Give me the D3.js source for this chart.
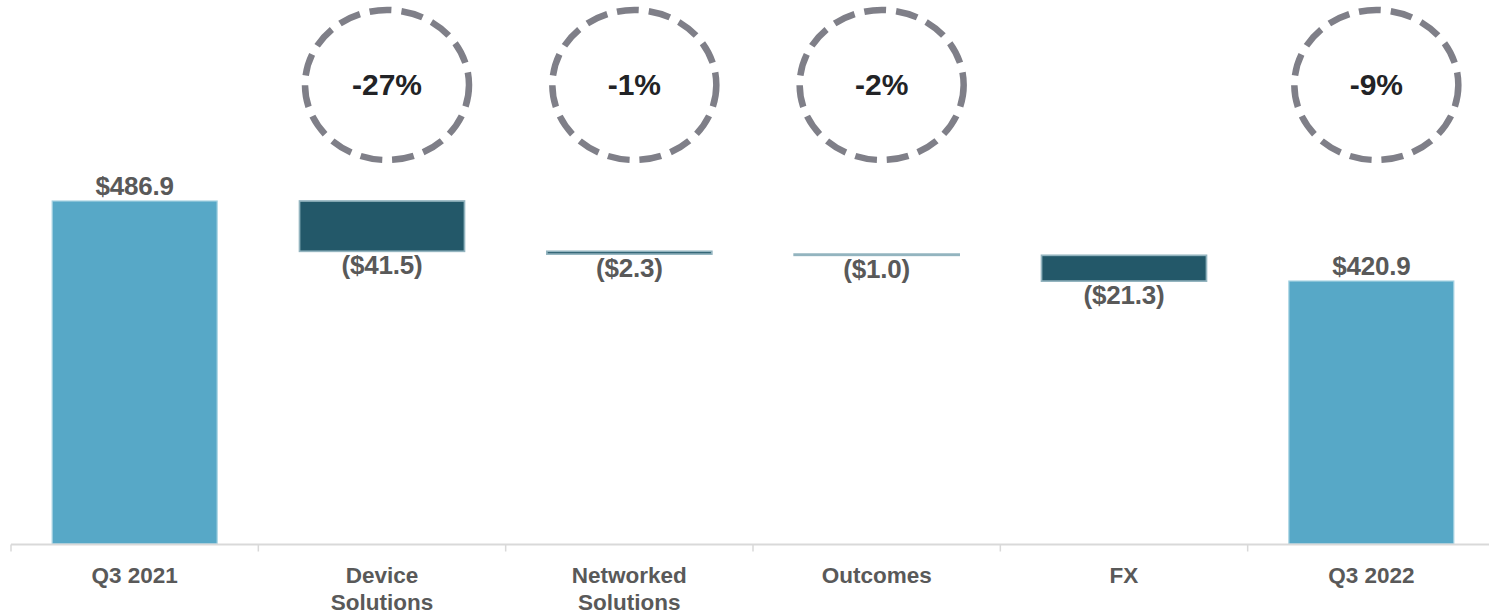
<!DOCTYPE html>
<html>
<head>
<meta charset="utf-8">
<script src="https://cdn.jsdelivr.net/npm/d3@7/dist/d3.min.js"></script>
<style>
  html, body { margin: 0; padding: 0; background: #ffffff; }
  svg { display: block; }
</style>
</head>
<body>
<svg id="chart" width="1489" height="615"></svg>
<script>
// ---- data ----
const categories = ["Q3 2021", "Device Solutions", "Networked Solutions", "Outcomes", "FX", "Q3 2022"];
const values = [486.9, -41.5, -2.3, -1.0, -21.3, 420.9];
const kinds = ["total", "delta", "delta", "delta", "delta", "total"];
const valueLabels = ["$486.9", "($41.5)", "($2.3)", "($1.0)", "($21.3)", "$420.9"];
const tickLabels = [["Q3 2021"], ["Device", "Solutions"], ["Networked", "Solutions"], ["Outcomes"], ["FX"], ["Q3 2022"]];
const pctCategories = ["Device Solutions", "Networked Solutions", "Outcomes", "Q3 2022"];
const pctLabels = ["-27%", "-1%", "-2%", "-9%"];

// ---- build waterfall ----
let running = 0;
const rows = categories.map((c, i) => {
  let start, end;
  if (kinds[i] === "total") { start = 204; end = values[i]; running = values[i]; }
  else { start = running; end = running + values[i]; running = end; }
  return { cat: c, kind: kinds[i], start, end, label: valueLabels[i], ticks: tickLabels[i] };
});

const svg = d3.select("#chart");
const x = d3.scaleBand().domain(categories).range([11, 1495]).paddingInner(0.333).paddingOuter(0.1665);
const y = d3.scaleLinear().domain([204, 486.9]).range([544, 201]);

const light = "#57a8c7", dark = "#235869";

// bars
svg.append("g").selectAll("rect").data(rows).join("rect")
  .attr("x", d => x(d.cat))
  .attr("width", x.bandwidth())
  .attr("y", d => y(Math.max(d.start, d.end)))
  .attr("height", d => Math.max(1, Math.abs(y(d.start) - y(d.end))))
  .attr("fill", d => d.kind === "total" ? light : dark)
  .attr("stroke", d => d.kind === "total" ? "#a6d2e2" : "#93b4bf")
  .attr("stroke-width", d => d.kind === "total" ? 1.2 : 1.7);

// axis line & ticks
const axisY = 544.5;
const ax = svg.append("g");
ax.append("line").attr("x1", 11).attr("x2", 1489).attr("y1", axisY).attr("y2", axisY)
  .attr("stroke", "#d9d9d9").attr("stroke-width", 2);
const bounds = categories.map(c => x(c) - x.step() * x.paddingInner() / 2);
bounds.push(x(categories[categories.length - 1]) + x.bandwidth() + x.step() * x.paddingInner() / 2);
ax.selectAll("line.tick").data(bounds.filter(b => b <= 1489)).join("line")
  .attr("class", "tick")
  .attr("x1", d => d).attr("x2", d => d)
  .attr("y1", axisY).attr("y2", axisY + 7)
  .attr("stroke", "#d9d9d9").attr("stroke-width", 1.5);

// category labels
const tl = svg.append("g").attr("font-family", "'Liberation Sans', Arial, sans-serif")
  .attr("font-weight", "bold").attr("font-size", 22.5).attr("fill", "#595959")
  .attr("text-anchor", "middle");
rows.forEach(d => {
  const t = tl.append("text").attr("x", x(d.cat) + x.bandwidth() / 2).attr("y", 583);
  d.ticks.forEach((line, j) => {
    t.append("tspan").attr("x", x(d.cat) + x.bandwidth() / 2).attr("dy", j === 0 ? 0 : 27).text(line);
  });
});

// value labels
svg.append("g").selectAll("text").data(rows).join("text")
  .attr("x", d => x(d.cat) + x.bandwidth() / 2)
  .attr("y", d => d.kind === "total" ? y(d.end) - 6 : y(Math.min(d.start, d.end)) + 23)
  .attr("text-anchor", "middle")
  .attr("font-family", "'Liberation Sans', Arial, sans-serif")
  .attr("font-weight", "bold").attr("font-size", 26).attr("letter-spacing", -0.2)
  .attr("fill", "#595959")
  .text(d => d.label);

// dashed circles with percentages
const pg = svg.append("g");
pctCategories.forEach((c, i) => {
  const cx = x(c) + x.bandwidth() / 2 + 5;
  pg.append("ellipse").attr("cx", cx).attr("cy", 85).attr("rx", 82).attr("ry", 75)
    .attr("fill", "none").attr("stroke", "#7f7f88").attr("stroke-width", 6.5)
    .attr("stroke-dasharray", "22 10");
  pg.append("text").attr("x", cx).attr("y", 95).attr("text-anchor", "middle")
    .attr("font-family", "'Liberation Sans', Arial, sans-serif")
    .attr("font-weight", "bold").attr("font-size", 30).attr("fill", "#222326")
    .text(pctLabels[i]);
});
</script>
</body>
</html>
